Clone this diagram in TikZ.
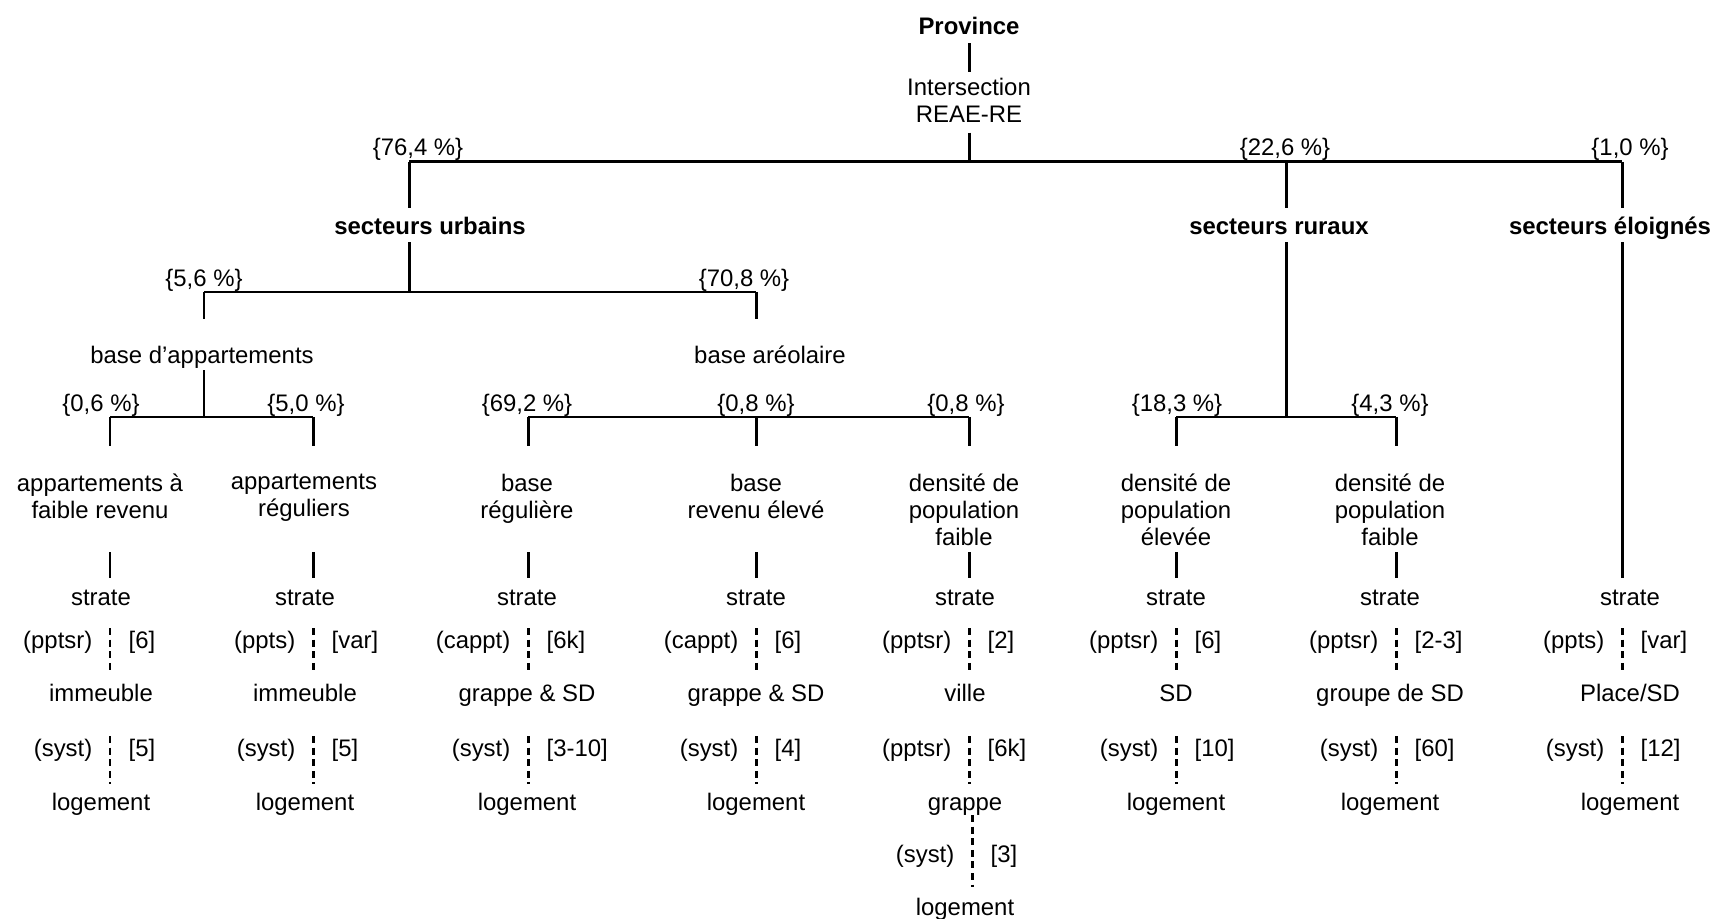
\documentclass[tikz,border=0pt]{standalone}
\usepackage{fontspec}
\setmainfont{Liberation Sans}
\tikzset{
  ln/.style={line width=0.85pt},
  dl/.style={line width=0.85pt, dash pattern=on 2pt off 1.3pt},
  lbl/.style={inner sep=0pt, text height=4.8pt, text depth=1.4pt, yshift=-0.85pt},
  hd/.style={lbl, font=\fontsize{6.8}{7.7}\selectfont\bfseries},
  ml/.style={inner sep=0pt, align=center, anchor=north},
}
\begin{document}
\begin{tikzpicture}[x=0.01cm, y=-0.01cm, font={\fontsize{6.8}{7.7}\selectfont}]
\useasboundingbox (0,0) rectangle (1713,919);

% Root
\node[hd] (prov) at (969,26) {Province};
\node[ml] (inter) at (969,77) {Intersection\\REAE-RE};
\draw[ln, shorten <=0.8pt, shorten >=1.4pt] (prov) -- (inter);

% Sectors
\coordinate (k0) at (969,162);
\coordinate (kurb) at (409,162);
\coordinate (krur) at (1286,162);
\coordinate (kelo) at (1622,162);
\draw[ln, shorten <=2.8pt] (inter) -- (k0);
\draw[ln] (kurb) -- (kelo);
\node[hd] (urb) at (430,226) {secteurs urbains};
\node[hd] (rur) at (1279,226) {secteurs ruraux};
\node[hd] (elo) at (1610,226) {secteurs éloignés};
\foreach \k/\s in {kurb/urb, krur/rur, kelo/elo} {
    \draw[ln, shorten >=2.6pt] (\k) -- (\k |- \s.north);
}

% Percentages
\foreach \x/\y/\v [count=\i] in {418/147/{76,4}, 1285/147/{22,6}, 1630/147/{1,0},
    204/278/{5,6}, 744/278/{70,8},
    101/403/{0,6}, 306/403/{5,0}, 527/403/{69,2}, 756/403/{0,8}, 966/403/{0,8},
    1177/403/{18,3}, 1390/403/{4,3}} {
    \node[lbl] (p\i) at (\x,\y) {\{\v~\%\}};
}

% Urban frames
\coordinate (kb1) at (204,292);
\coordinate (kb2) at (756,292);
\coordinate (kurb2) at (409,292);
\draw[ln, shorten <=0.5pt] (urb.south -| kurb) -- (kurb2);
\draw[ln] (kb1) -- (kb2);
\node[lbl] (bapp) at (202,355) {base d'appartements};
\node[lbl] (bareo) at (770,355) {base aréolaire};
\draw[ln, shorten >=7.85pt] (kb1) -- (kb1 |- bapp.north);
\draw[ln, shorten >=7.85pt] (kb2) -- (kb2 |- bareo.north);
\coordinate (kapp) at (204,417);
\draw[ln, shorten <=0.25pt] (bapp.south -| kapp) -- (kapp);

% Strata headings
\foreach \n/\c/\t/\txt in {
    1/110/100/{appartements à\\faible revenu},
    2/313/304/{appartements\\réguliers},
    3/528/527/{base\\régulière},
    4/756/756/{base\\revenu élevé},
    5/969/964/{densité de\\population\\faible},
    6/1176/1176/{densité de\\population\\élevée},
    7/1396/1390/{densité de\\population\\faible}%
} {
    \coordinate (k\n) at (\c,417);
    \coordinate (u\n) at (\c,552);
    \node[ml] (c\n) at (\t,473) {\txt};
    \draw[ln, shorten >=7.6pt] (k\n) -- (k\n |- c\n.north);
}
\draw[ln] (k1) -- (k2);
\draw[ln] (k3) -- (k5);
\draw[ln] (k6) -- (k7);
\coordinate (krur2) at (1286,417);
\draw[ln, shorten <=0.5pt] (rur.south -| krur) -- (krur2);

% Sampling stages
\foreach \n/\c/\t/\la/\ra/\md/\lb/\rb/\lo in {
    1/110/101/(pptsr)/[6]/immeuble/(syst)/[5]/logement,
    2/313/305/(ppts)/[var]/immeuble/(syst)/[5]/logement,
    3/528/527/(cappt)/[6k]/grappe \& SD/(syst)/[3-10]/logement,
    4/756/756/(cappt)/[6]/grappe \& SD/(syst)/[4]/logement,
    5/969/965/(pptsr)/[2]/ville/(pptsr)/[6k]/grappe,
    6/1176/1176/(pptsr)/[6]/SD/(syst)/[10]/logement,
    7/1396/1390/(pptsr)/[2-3]/groupe de SD/(syst)/[60]/logement,
    8/1622/1630/(ppts)/[var]/{Place/SD}/(syst)/[12]/logement%
} {
    \node[lbl] (s\n) at (\t,597) {strate};
    \node[lbl] (m\n) at (\t,693) {\md};
    \node[lbl] (g\n) at (\t,802) {\lo};
    \node[lbl, anchor=east] (la\n) at (\c-17,640) {\la};
    \node[lbl, anchor=west] (ra\n) at (\c+18,640) {\ra};
    \node[lbl, anchor=east] (lb\n) at (\c-17,748) {\lb};
    \node[lbl, anchor=west] (rb\n) at (\c+18,748) {\rb};
    \coordinate (a\n) at (\c,628);
    \coordinate (b\n) at (\c,736);
    \draw[dl, shorten >=2.85pt] (a\n) -- (a\n |- m\n.north);
    \draw[dl, shorten >=2.55pt] (b\n) -- (b\n |- g\n.north);
}
\foreach \n in {1,...,7} {
    \draw[ln, shorten >=2.85pt] (u\n) -- (u\n |- s\n.north);
}
\draw[ln, shorten <=0.5pt, shorten >=2.85pt] (elo.south -| kelo) -- (kelo |- s8.north);

% Extra stage
\coordinate (e5) at (972,815);
\node[lbl, anchor=east] (lc5) at (955,854) {(syst)};
\node[lbl, anchor=west] (rc5) at (990,854) {[3]};
\node[lbl] (h5) at (965,907) {logement};
\draw[dl, shorten >=3.15pt] (e5) -- (e5 |- h5.north);
\end{tikzpicture}
\end{document}
